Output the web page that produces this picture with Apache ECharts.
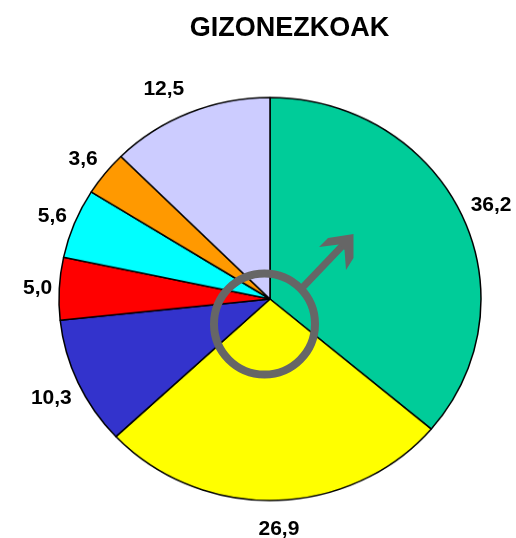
<!DOCTYPE html>
<html>
<head>
<meta charset="utf-8">
<style>
    html, body { margin: 0; padding: 0; background: #fff; }
    #wrap { position: relative; width: 516px; height: 538px; overflow: hidden; }
    #main, #over { position: absolute; left: 0; top: 0; width: 516px; height: 538px; }
    /* the original pie is a little flatter than a circle */
    #main { transform: scaleY(0.955); transform-origin: 270px 299px; }
</style>
<script src="https://cdn.jsdelivr.net/npm/echarts@6/dist/echarts.min.js"></script>
</head>
<body>
<div id="wrap">
    <div id="main"></div>
    <div id="over"></div>
</div>
<script>
var values = [36.2, 26.9, 10.3, 5.0, 5.6, 3.6, 12.5];
var valueLabels = ['36,2', '26,9', '10,3', '5,0', '5,6', '3,6', '12,5'];
var colors = ['#00CC99', '#FFFF00', '#3333CC', '#FF0000', '#00FFFF', '#FF9900', '#CCCCFF'];
var title = 'GIZONEZKOAK';
// nudges of the outside labels, in the same order as values
var labelDx = [-3, -22, 6, 6, 5, 4, 3];
var labelDy = [-2, 11, 8, 1, -1, -3, -7];

var myChart = echarts.init(document.getElementById('main'));
myChart.setOption({
    animation: false,
    series: [{
        type: 'pie',
        center: [270, 299],
        radius: [0, 211],
        startAngle: 90,
        clockwise: true,
        silent: true,
        label: { show: false },
        labelLine: { show: false },
        itemStyle: { borderColor: '#000', borderWidth: 1.5 },
        data: values.map(function(v, i) {
            return { value: v, name: valueLabels[i], itemStyle: { color: colors[i] } };
        })
    }]
});

// labels, title and the symbol go on a second chart so they are not squashed
var overChart = echarts.init(document.getElementById('over'));
var grey = '#666666';
overChart.setOption({
    animation: false,
    title: {
        text: title,
        left: 284.5,
        top: 10,
        textAlign: 'center',
        textStyle: { fontFamily: 'Liberation Sans', fontSize: 27, fontWeight: 'bold', color: '#000' }
    },
    series: [{
        type: 'pie',
        center: [270, 299],
        radius: [0, 211],
        startAngle: 90,
        clockwise: true,
        silent: true,
        itemStyle: { color: 'transparent' },
        label: {
            show: true,
            position: 'outside',
            formatter: '{b}',
            overflow: 'none',
            fontFamily: 'Liberation Sans',
            fontSize: 21,
            fontWeight: 'bold',
            color: '#000'
        },
        labelLine: { show: false, length: 8, length2: 0 },
        labelLayout: function(params) {
            return { dx: labelDx[params.dataIndex], dy: labelDy[params.dataIndex] };
        },
        data: values.map(function(v, i) {
            return { value: v, name: valueLabels[i] };
        })
    }],
    graphic: [
        {
            type: 'circle',
            shape: { cx: 264.5, cy: 324, r: 50.5 },
            style: { fill: 'none', stroke: grey, lineWidth: 8 },
            z: 10
        },
        {
            type: 'line',
            shape: { x1: 303, y1: 287, x2: 345, y2: 243 },
            style: { stroke: grey, lineWidth: 7 },
            z: 10
        },
        {
            type: 'polygon',
            shape: { points: [[353.5, 234], [328, 238], [319, 247], [339, 244.5], [344.5, 250], [346, 270], [353.5, 258]] },
            style: { fill: grey },
            z: 10
        }
    ]
});
</script>
</body>
</html>
